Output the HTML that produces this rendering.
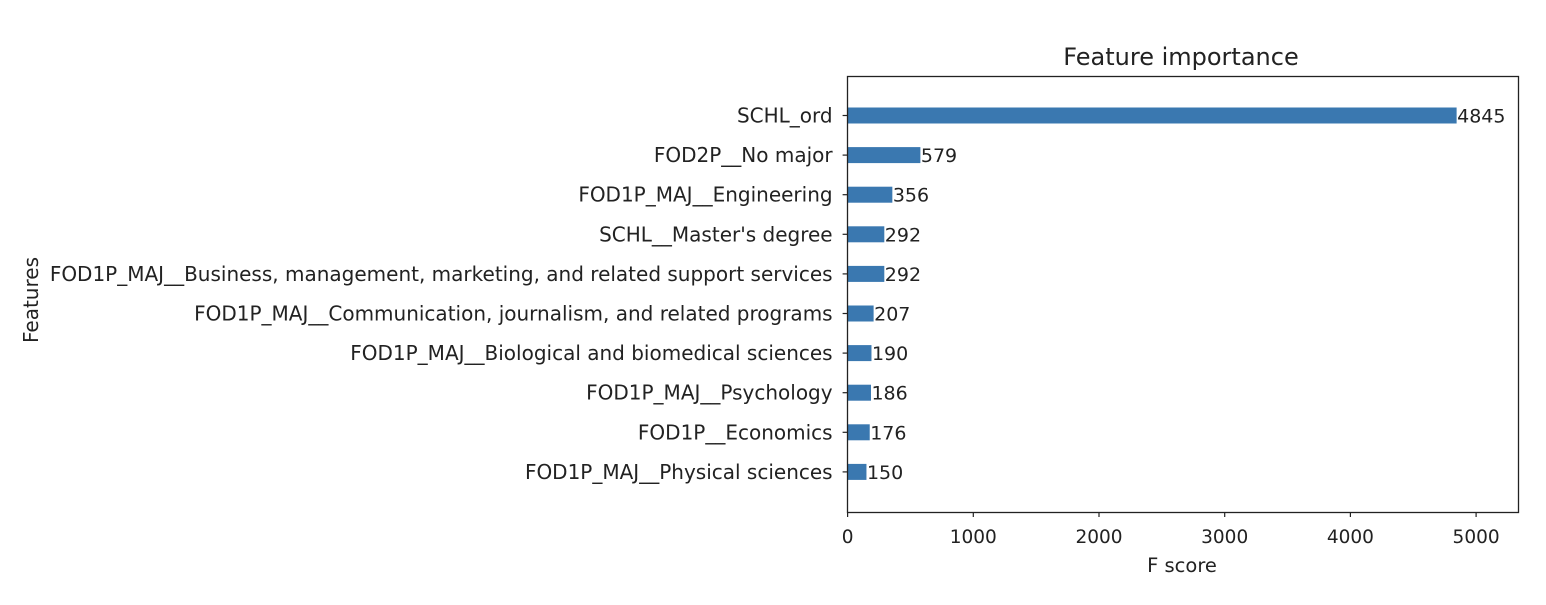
<!DOCTYPE html>
<html><head><meta charset="utf-8"><style>
body{margin:0;background:#fff;}
svg text{font-family:"DejaVu Sans","Liberation Sans",sans-serif;fill:#222;}
</style></head><body>
<svg id="chart" width="1546" height="600" xmlns="http://www.w3.org/2000/svg">
<rect x="0" y="0" width="1546" height="600" fill="#fff"/>
<text x="1181" y="65" font-size="24" text-anchor="middle">Feature importance</text>
<text x="1182" y="572" font-size="19.5" text-anchor="middle">F score</text>
<text transform="translate(38,300) rotate(-90)" font-size="20" text-anchor="middle">Features</text>
<g id="bars"></g>
<g id="ticks"></g>
<rect x="847.5" y="76.5" width="671" height="436" fill="none" stroke="#222" stroke-width="1.3"/>
</svg>
<script>
const categories = ["SCHL_ord","FOD2P__No major","FOD1P_MAJ__Engineering","SCHL__Master's degree","FOD1P_MAJ__Business, management, marketing, and related support services","FOD1P_MAJ__Communication, journalism, and related programs","FOD1P_MAJ__Biological and biomedical sciences","FOD1P_MAJ__Psychology","FOD1P__Economics","FOD1P_MAJ__Physical sciences"];
const values = [4845,579,356,292,292,207,190,186,176,150];
const xTicks = [0,1000,2000,3000,4000,5000];
const NS="http://www.w3.org/2000/svg";
const x0=847.6, pxPer=0.1257, yTop=115.5, step=39.6, bh=16;
const xs=v=>x0+v*pxPer;
const ys=i=>yTop+i*step;
const bars=document.getElementById('bars'), ticks=document.getElementById('ticks');
function mk(t,a,p){const e=document.createElementNS(NS,t);for(const k in a)e.setAttribute(k,a[k]);p.appendChild(e);return e;}
categories.forEach((c,i)=>{
  const y=ys(i);
  const r=mk('rect',{x:xs(0),y:y-bh/2,width:xs(values[i])-xs(0),height:bh,fill:'#3a78b0'},bars);
  
  
  const v=mk('text',{x:xs(values[i])+0.5,y:y+7,'font-size':19},bars);v.textContent=values[i];
  
  
  mk('line',{x1:x0-5,x2:x0,y1:y,y2:y,stroke:'#222','stroke-width':1.2},ticks);
  const l=mk('text',{x:x0-15,y:y+7,'font-size':20,'text-anchor':'end'},ticks);l.textContent=c;
  
  
});
xTicks.forEach(t=>{
  const x=xs(t);
  mk('line',{x1:x,x2:x,y1:512,y2:517,stroke:'#222','stroke-width':1.2},ticks);
  const l=mk('text',{x:x,y:543,'font-size':18.5,'text-anchor':'middle'},ticks);l.textContent=t;
  
  
});
</script>
</body></html>
